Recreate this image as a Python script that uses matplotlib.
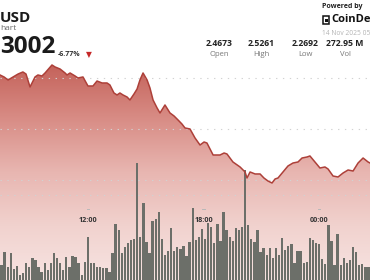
import numpy as np
import matplotlib
matplotlib.use('Agg')
import matplotlib.pyplot as plt
from matplotlib.colors import LinearSegmentedColormap
from matplotlib.patches import Polygon, Rectangle

plt.rcParams['font.family'] = ['Open Sans', 'DejaVu Sans']

# ---- data ----
# time in hours from 00:00 on 13 Nov (24 = 00:00 on 14 Nov)
price_times = [7.43, 7.64, 7.85, 8.11, 8.37, 8.62, 8.78, 8.99, 9.25, 9.40, 9.61, 9.77,
               10.13, 10.29, 10.55, 10.81, 10.91, 11.07, 11.33, 11.48, 11.74, 12.00,
               12.26, 12.47, 12.73, 12.99, 13.14, 13.35, 13.51, 13.66, 13.82, 14.03,
               14.18, 14.39, 14.55, 14.70, 14.86, 15.07, 15.22, 15.38, 15.59, 15.74,
               16.00, 16.26, 16.47, 16.68, 16.88, 17.04, 17.30, 17.56, 17.82, 18.03,
               18.18, 18.50, 18.86, 19.07, 19.22, 19.53, 19.90, 20.16, 20.26, 20.42,
               20.68, 20.94, 21.14, 21.35, 21.56, 21.72, 21.87, 22.13, 22.39, 22.65,
               22.91, 23.12, 23.38, 23.53, 23.79, 24.05, 24.31, 24.47, 24.73, 24.99,
               25.25, 25.51, 25.77, 26.03, 26.29, 26.55, 26.65]
prices = [2.5059, 2.5020, 2.4961, 2.5020, 2.5078, 2.5118, 2.5078, 2.4824, 2.5020, 2.5059,
          2.5039, 2.5098, 2.5255, 2.5216, 2.5176, 2.5098, 2.5059, 2.5098, 2.5039, 2.5000,
          2.5020, 2.4843, 2.4843, 2.4941, 2.4902, 2.4902, 2.4863, 2.4706, 2.4667, 2.4706,
          2.4667, 2.4627, 2.4569, 2.4686, 2.4784, 2.4961, 2.5098, 2.4961, 2.4804, 2.4569,
          2.4412, 2.4314, 2.4471, 2.4314, 2.4255, 2.4176, 2.4098, 2.4020, 2.4000, 2.3824,
          2.3686, 2.3745, 2.3725, 2.3490, 2.3490, 2.3529, 2.3510, 2.3353, 2.3255, 2.3157,
          2.3039, 2.3157, 2.3118, 2.3118, 2.3039, 2.2980, 2.2941, 2.3020, 2.3039, 2.3157,
          2.3275, 2.3333, 2.3353, 2.3431, 2.3451, 2.3471, 2.3353, 2.3235, 2.3255, 2.3216,
          2.3078, 2.3059, 2.3137, 2.3196, 2.3176, 2.3333, 2.3431, 2.3353, 2.3333]

# volume per bar (relative units)
volumes = [15, 28, 13, 27, 11, 14, 5, 7, 17, 13, 22, 20, 13, 8, 17, 10, 17, 27, 22, 17,
           10, 23, 13, 24, 23, 17, 5, 18, 43, 17, 17, 13, 13, 12, 12, 8, 27, 56, 50,
           27, 33, 37, 40, 41, 117, 43, 77, 38, 27, 59, 61, 68, 41, 25, 29, 52, 29, 33, 31,
           34, 24, 38, 72, 40, 43, 51, 41, 57, 53, 37, 56, 39, 68, 50, 43, 39, 52, 50, 53,
           110, 55, 41, 38, 50, 28, 32, 25, 32, 22, 32, 25, 42, 30, 34, 36, 17, 29, 29, 17,
           18, 42, 40, 37, 36, 21, 16, 55, 39, 15, 46, 15, 22, 17, 20, 33, 28, 15, 16, 13, 13]

tick_hours = [12, 18, 24]
tick_labels = ['12:00', '18:00', '00:00']
grid_prices = [2.50, 2.40, 2.30]

stat_values = ['2.4673', '2.5261', '2.2692', '272.95 M']
stat_names = ['Open', 'High', 'Low', 'Vol']

# ---- layout ----
W, H = 370, 280
t0, t1 = 7.43, 26.65
pmin, pmax = 2.1039, 2.6529

def fx(px):
    return px / W

def fy(py):
    return 1 - py / H

fig = plt.figure(figsize=(3.7, 2.8), dpi=100)
fig.patch.set_facecolor('white')

# background axis: gradient area under the price line
ax1 = fig.add_axes([0, 0, 1, 1])
ax1.set_xlim(t0, t1)
ax1.set_ylim(pmin, pmax)
ax1.axis('off')

cmap = LinearSegmentedColormap.from_list('area', [
    (0.0, '#f7e4e2'), (0.25, '#f1d2ce'), (0.5, '#e8b6b1'),
    (0.75, '#d88c85'), (1.0, '#c4625a')])
grad = np.linspace(0, 1, 256).reshape(-1, 1)
img = ax1.imshow(grad, cmap=cmap, origin='lower', aspect='auto',
                 extent=[t0, t1, pmin, 2.5255], zorder=1)
verts = [(price_times[0], pmin)] + list(zip(price_times, prices)) + [(price_times[-1], pmin)]
poly = Polygon(verts, closed=True, facecolor='none', edgecolor='none')
ax1.add_patch(poly)
img.set_clip_path(poly)

for gp in grid_prices:
    ax1.axhline(gp, color='#d2d2d2', lw=0.8, dashes=(1.2, 5), zorder=2)

# volume bars
ax2 = ax1.twinx()
ax2.set_ylim(0, 280)
ax2.set_xlim(t0, t1)
ax2.axis('off')
step = (t1 - t0) / len(volumes)
bar_x = t0 + (np.arange(len(volumes)) + 0.5) * step
ax2.axhline(85, color='#d2d2d2', lw=0.8, dashes=(1.2, 5), zorder=1)
ax2.bar(bar_x, volumes, width=step * 0.78, color='#6c6f69', edgecolor='none', zorder=2)

# price line on top
ax3 = ax1.twinx()
ax3.set_ylim(pmin, pmax)
ax3.set_xlim(t0, t1)
ax3.axis('off')
ax3.plot(price_times, prices, color='#ad4039', lw=1.1, solid_joinstyle='round')

# time labels drawn inside the plot
for th, tl in zip(tick_hours, tick_labels):
    ax3.plot([th - 0.06, th + 0.06], [fy(209)] * 2, color='#b8b8b8', lw=0.7,
             transform=ax3.get_xaxis_transform())
    ax3.text(th, fy(221), tl, transform=ax3.get_xaxis_transform(), ha='center',
             va='center', fontsize=5.2, fontweight='bold', color='#333333')

# header texts (the reference is a crop, only the visible parts are kept)
fig.text(fx(0), fy(17.5), 'USD', ha='left', va='center', fontsize=11,
         fontweight='bold', color='#1b1b1b')
fig.text(fx(0), fy(28), 'hart', ha='left', va='center', fontsize=6,
         color='#6a6a6a')
fig.text(fx(0), fy(47), '3002', ha='left', va='center', fontsize=17.5,
         fontweight='bold', color='#1b1b1b')
fig.text(fx(58), fy(54.5), '-6.77%', ha='left', va='center', fontsize=5,
         fontweight='bold', color='#333333')
fig.text(fx(89), fy(54.5), '\u25bc', ha='center', va='center', fontsize=5.5,
         color='#c62828', family='DejaVu Sans')

for cx, v, n in zip([219, 261, 305, 345], stat_values, stat_names):
    fig.text(fx(cx), fy(43.5), v, ha='center', va='center', fontsize=6.2,
             fontweight='bold', color='#222222')
    fig.text(fx(cx), fy(54), n, ha='center', va='center', fontsize=5.5,
             color='#777777')

fig.text(fx(322), fy(6.5), 'Powered by', ha='left', va='center', fontsize=5,
         fontweight='bold', color='#222222')
fig.patches.append(Rectangle((fx(322.5), fy(24)), 6 / W, 8 / H, transform=fig.transFigure,
                             facecolor='none', edgecolor='#111111', lw=1.1))
fig.patches.append(Rectangle((fx(325), fy(21.5)), 2.5 / W, 3 / H, transform=fig.transFigure,
                             facecolor='#111111', edgecolor='none'))
fig.text(fx(331), fy(20), 'CoinDe', ha='left', va='center', fontsize=8,
         fontweight='bold', color='#111111')
fig.text(fx(322), fy(33.5), '14 Nov 2025 05', ha='left', va='center', fontsize=4.8,
         color='#b4b4b4')

fig.savefig('out.png', dpi=100)
